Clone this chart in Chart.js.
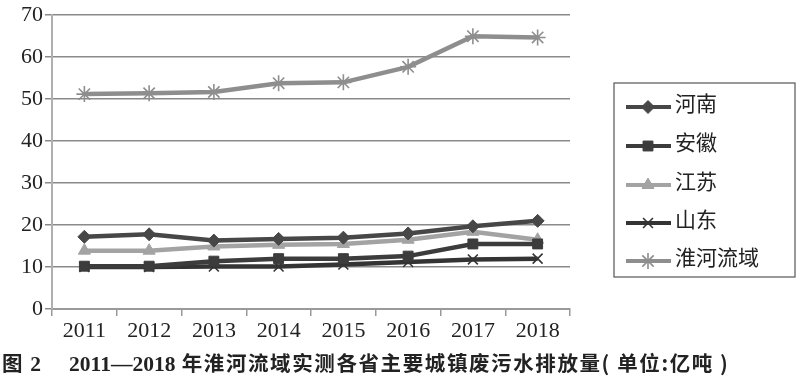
<!DOCTYPE html>
<html>
<head>
<meta charset="utf-8">
<script src="https://cdn.jsdelivr.net/npm/chart.js@4/dist/chart.umd.min.js"></script>
<style>
  html, body { margin: 0; padding: 0; background: #fff; }
  #wrap { position: relative; width: 800px; height: 382px; }
  #c { position: absolute; left: 0; top: 0; }
  #cap { position: absolute; left: 2px; top: 347px; font: bold 20.5px "Noto Sans CJK SC", sans-serif; color: #222; white-space: nowrap; letter-spacing: 1.6px; }
  #cap .n { font-family: "Liberation Serif", serif; font-size: 21.5px; letter-spacing: 0; }
</style>
</head>
<body>
<div id="wrap">
  <canvas id="c" width="800" height="382"></canvas>
  <div id="cap">图 <span class="n">2</span><span style="display:inline-block;width:28px"></span><span class="n">2011—2018</span> 年淮河流域实测各省主要城镇废污水排放量( 单位:亿吨 )</div>
</div>
<script>
const years = ['2011', '2012', '2013', '2014', '2015', '2016', '2017', '2018'];
const henan   = [17.2, 17.8, 16.3, 16.7, 17.0, 18.0, 19.7, 21.0];
const anhui   = [10.2, 10.2, 11.4, 12.0, 12.0, 12.6, 15.5, 15.5];
const jiangsu = [13.9, 13.9, 14.9, 15.3, 15.5, 16.5, 18.4, 16.5];
const shandong= [10.0, 10.0, 10.1, 10.1, 10.6, 11.2, 11.8, 12.0];
const huaihe  = [51.2, 51.4, 51.7, 53.8, 54.0, 57.7, 65.0, 64.7];
const seriesNames = ['河南', '安徽', '江苏', '山东', '淮河流域'];
const yTicks = [0, 10, 20, 30, 40, 50, 60, 70];

const colors = ['#474747', '#3c3c3c', '#a3a3a3', '#343434', '#8e8e8e'];
const styles = ['rectRot', 'rect', 'triangle', 'crossRot', 'star'];
const radii = [6.5, 7, 7, 7, 8];
const values = [henan, anhui, jiangsu, shandong, huaihe];

const datasets = seriesNames.map((n, i) => ({
  label: n,
  data: values[i],
  borderColor: colors[i],
  backgroundColor: colors[i],
  pointBackgroundColor: colors[i],
  pointBorderColor: colors[i],
  pointStyle: styles[i],
  pointRadius: radii[i],
  pointBorderWidth: (styles[i] === 'crossRot' || styles[i] === 'star') ? 1.6 : 1,
  borderWidth: 4.5,
  tension: 0,
  fill: false,
  order: i
}));

const legendPlugin = {
  id: 'boxLegend',
  afterDraw(chart) {
    const ctx = chart.ctx;
    ctx.save();
    ctx.strokeStyle = '#555';
    ctx.lineWidth = 1.2;
    ctx.strokeRect(614, 83, 181, 194);
    const lineYs = [107, 146, 185, 223, 261];
    chart.data.datasets.forEach((ds, i) => {
      const y = lineYs[i];
      ctx.save();
      ctx.strokeStyle = ds.borderColor;
      ctx.lineWidth = 4;
      ctx.beginPath();
      ctx.moveTo(626, y);
      ctx.lineTo(671, y);
      ctx.stroke();
      ctx.fillStyle = ds.pointBackgroundColor;
      ctx.strokeStyle = ds.pointBorderColor;
      ctx.lineWidth = ds.pointBorderWidth;
      Chart.helpers.drawPoint(ctx, {
        pointStyle: ds.pointStyle,
        radius: ds.pointRadius,
        rotation: 0,
        borderWidth: ds.pointBorderWidth
      }, 648, y);
      ctx.restore();
      ctx.fillStyle = '#222';
      ctx.font = '21px "Noto Sans CJK SC"';
      ctx.textBaseline = 'middle';
      ctx.textAlign = 'left';
      ctx.fillText(ds.label, 675, y - 4);
    });
    ctx.restore();
  }
};

new Chart(document.getElementById('c'), {
  type: 'line',
  data: { labels: years, datasets },
  plugins: [legendPlugin],
  options: {
    responsive: false,
    animation: false,
    layout: { padding: { top: 11, right: 230, left: 0, bottom: 0 } },
    plugins: { legend: { display: false }, tooltip: { enabled: false }, title: { display: false } },
    scales: {
      x: {
        type: 'category',
        offset: true,
        grid: { display: true, drawOnChartArea: false, drawTicks: true, tickLength: 7, color: '#999', lineWidth: 1.5, offset: true },
        border: { display: true, color: '#9a9a9a', width: 2 },
        ticks: { color: '#222', font: { family: 'Liberation Serif', size: 22 }, padding: 2, maxRotation: 0 },
        afterFit(scale) { scale.height = 73; }
      },
      y: {
        min: 0, max: 70,
        afterBuildTicks(scale) { scale.ticks = yTicks.map(v => ({ value: v })); },
        grid: { color: '#8a8a8a', lineWidth: 1.5, drawTicks: true, tickLength: 7 },
        border: { display: true, color: '#b0b0b0', width: 2 },
        ticks: { color: '#222', font: { family: 'Liberation Serif', size: 22 }, padding: 2 },
        afterFit(scale) { scale.width = 52; }
      }
    }
  }
});
</script>
</body>
</html>
